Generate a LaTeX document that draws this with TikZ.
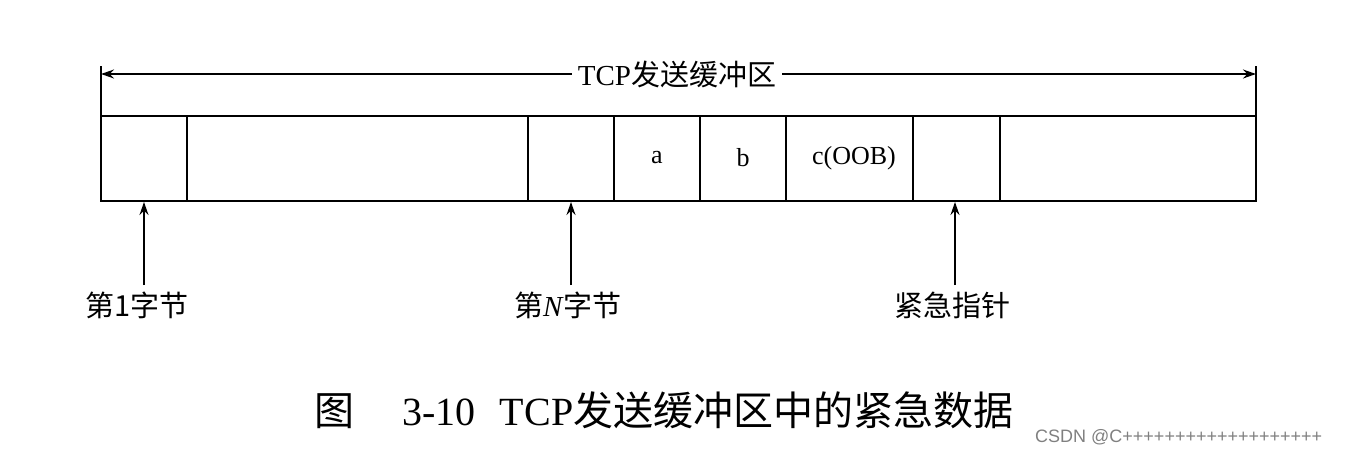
\documentclass[tikz,border=0pt]{standalone}
\usepackage{fontspec}
\setmainfont{Liberation Serif}
\newfontfamily\cjk{Noto Sans CJK SC}
\newfontfamily\wm{Liberation Sans}
\usetikzlibrary{arrows.meta}
\begin{document}
\begin{tikzpicture}[x=1pt,y=-1pt,
  ln/.style={line width=1.8pt},
  arr/.style={line width=1.5pt,-{Stealth[length=13pt,width=9pt]}},
  lbl/.style={font=\fontsize{29}{32}\selectfont, inner sep=1pt},
  cell/.style={font=\fontsize{26}{28}\selectfont}]
\useasboundingbox (0,0) rectangle (1363,453);
\draw[ln] (101,116) rectangle (1256,201);
\foreach \x in {187,528,614,700,786,913,1000} \draw[ln] (\x,116) -- (\x,201);
\node[cell] at (657,158) {a};
\node[cell] at (743,158) {b};
\node[cell] at (854,158) {c(OOB)};
\draw[line width=1.5pt] (101,66) -- (101,116);
\draw[line width=1.5pt] (1256,66) -- (1256,116);
\node[lbl, fill=white, inner sep=6pt] (t) at (677,74) {TCP{\cjk 发送缓冲区}};
\coordinate (l) at (101,74); \coordinate (r) at (1256,74);
\draw[arr] (t.west) -- (l);
\draw[arr] (t.east) -- (r);
\node[lbl] (n1) at (137,305) {\cjk 第1字节};
\node[lbl] (n2) at (568,305) {{\cjk 第}\textit{N}{\cjk 字节}};
\node[lbl] (n3) at (952,305) {\cjk 紧急指针};
\coordinate (a1) at (144,202); \coordinate (a2) at (571,202); \coordinate (a3) at (955,202);
\draw[arr] (144,285) -- (a1);
\draw[arr] (571,285) -- (a2);
\draw[arr] (955,285) -- (a3);
\node[font=\fontsize{40}{44}\selectfont] (cap) at (664,410) {{\cjk 图}\hspace{1.2em}3-10\hspace{0.6em}TCP{\cjk 发送缓冲区中的紧急数据}};
\node[font=\wm\fontsize{18}{20}\selectfont, text=gray, anchor=west, inner sep=0pt] (w) at (1035,437) {CSDN @C+++++++++++++++++++};
\end{tikzpicture}
\end{document}
